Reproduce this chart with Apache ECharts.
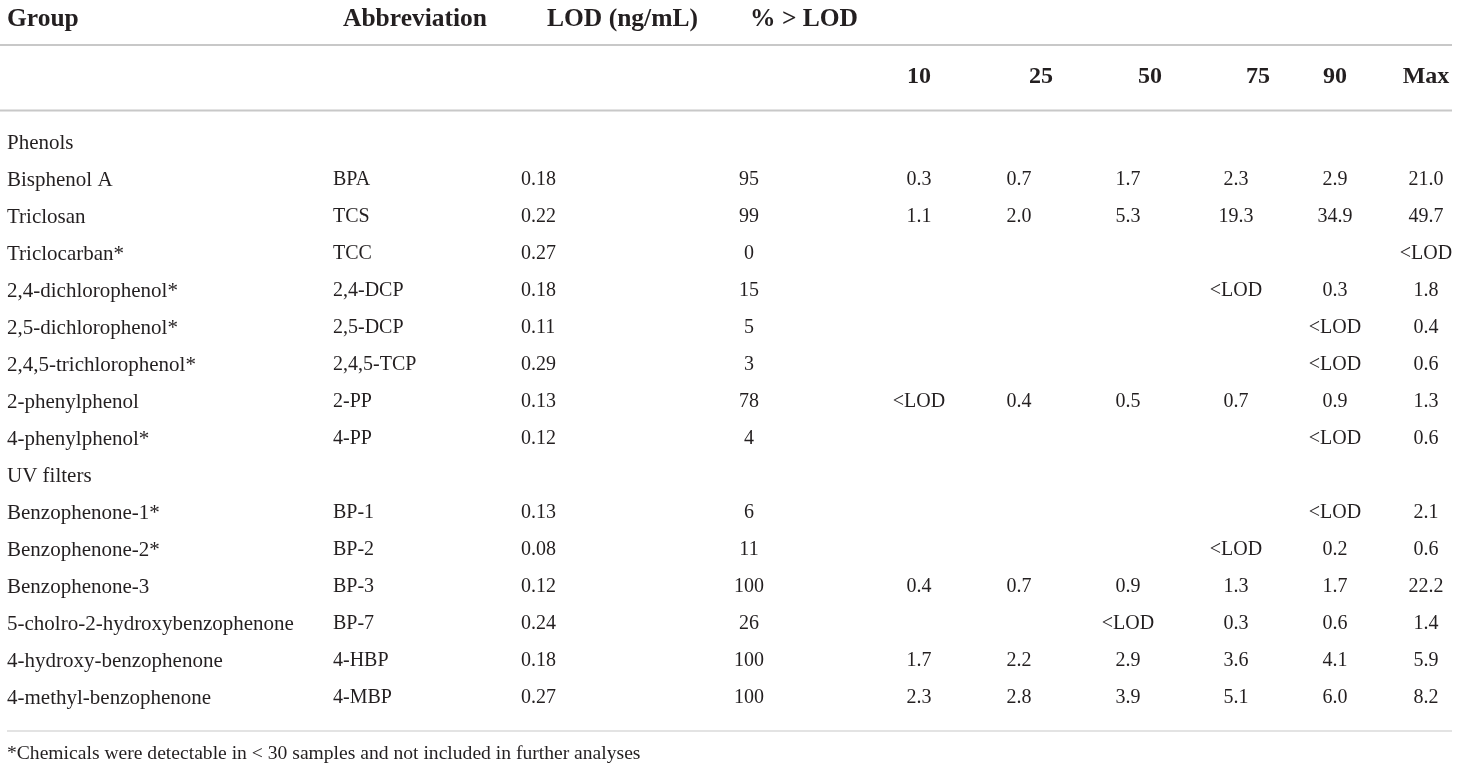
<!DOCTYPE html>
<html>
<head>
<meta charset="utf-8">
<title>Phenols and UV filters</title>
<script src="https://cdn.jsdelivr.net/npm/echarts@6/dist/echarts.min.js"></script>
<style>
  html, body { margin: 0; padding: 0; background: #fff; }
  #chart { width: 1460px; height: 772px; }
</style>
</head>
<body>
<div id="chart"></div>
<script>
// table content
const mainHeaders = ['Group', 'Abbreviation', 'LOD (ng/mL)', '% > LOD'];
const percentileHeaders = ['10', '25', '50', '75', '90', 'Max'];

const names = ['Phenols', 'Bisphenol A', 'Triclosan', 'Triclocarban*', '2,4-dichlorophenol*',
  '2,5-dichlorophenol*', '2,4,5-trichlorophenol*', '2-phenylphenol', '4-phenylphenol*',
  'UV filters', 'Benzophenone-1*', 'Benzophenone-2*', 'Benzophenone-3',
  '5-cholro-2-hydroxybenzophenone', '4-hydroxy-benzophenone', '4-methyl-benzophenone'];
const abbrevs = ['', 'BPA', 'TCS', 'TCC', '2,4-DCP', '2,5-DCP', '2,4,5-TCP', '2-PP', '4-PP',
  '', 'BP-1', 'BP-2', 'BP-3', 'BP-7', '4-HBP', '4-MBP'];
const lods = ['', '0.18', '0.22', '0.27', '0.18', '0.11', '0.29', '0.13', '0.12',
  '', '0.13', '0.08', '0.12', '0.24', '0.18', '0.27'];
const pctAboveLod = ['', '95', '99', '0', '15', '5', '3', '78', '4',
  '', '6', '11', '100', '26', '100', '100'];
const p10 = ['', '0.3', '1.1', '', '', '', '', '<LOD', '', '', '', '', '0.4', '', '1.7', '2.3'];
const p25 = ['', '0.7', '2.0', '', '', '', '', '0.4', '', '', '', '', '0.7', '', '2.2', '2.8'];
const p50 = ['', '1.7', '5.3', '', '', '', '', '0.5', '', '', '', '', '0.9', '<LOD', '2.9', '3.9'];
const p75 = ['', '2.3', '19.3', '', '<LOD', '', '', '0.7', '', '', '', '<LOD', '1.3', '0.3', '3.6', '5.1'];
const p90 = ['', '2.9', '34.9', '', '0.3', '<LOD', '<LOD', '0.9', '<LOD', '', '<LOD', '0.2', '1.7', '0.6', '4.1', '6.0'];
const pMax = ['', '21.0', '49.7', '<LOD', '1.8', '0.4', '0.6', '1.3', '0.6', '', '2.1', '0.6', '22.2', '1.4', '5.9', '8.2'];
const footnote = '*Chemicals were detectable in < 30 samples and not included in further analyses';

// layout
const FONT = "'Liberation Serif', 'DejaVu Serif', serif";
const nameFont = '21px ' + FONT;
const bodyFont = '20px ' + FONT;
const headFont = 'bold 25.5px ' + FONT;
const subHeadFont = 'bold 24px ' + FONT;
const textColor = '#231f20';
const ruleColor = '#c8c8c8';
const rowHeight = 37;
const firstRowY = 143;

const columns = [
  { values: names, x: 7, align: 'left', font: nameFont },
  { values: abbrevs, x: 333, align: 'left', font: bodyFont },
  { values: lods, x: 521, align: 'left', font: bodyFont },
  { values: pctAboveLod, x: 749, align: 'center', font: bodyFont },
  { values: p10, x: 919, align: 'center', font: bodyFont },
  { values: p25, x: 1019, align: 'center', font: bodyFont },
  { values: p50, x: 1128, align: 'center', font: bodyFont },
  { values: p75, x: 1236, align: 'center', font: bodyFont },
  { values: p90, x: 1335, align: 'center', font: bodyFont },
  { values: pMax, x: 1426, align: 'center', font: bodyFont }
];
const mainHeaderX = [7, 343, 547, 750];
const percentileHeaderX = [919, 1041, 1150, 1258, 1335, 1426];

const chart = echarts.init(document.getElementById('chart'));

function cellSeries(col) {
  return {
    type: 'custom',
    silent: true,
    data: col.values.map((v, i) => [col.x, i]),
    renderItem: function (params, api) {
      const text = col.values[params.dataIndex];
      if (!text) return null;
      const pt = api.coord([api.value(0), api.value(1)]);
      return {
        type: 'text',
        x: pt[0],
        y: pt[1],
        style: {
          text: text,
          font: col.font,
          fill: textColor,
          textAlign: col.align,
          textVerticalAlign: 'middle'
        }
      };
    }
  };
}

function headerText(text, x, y, align, font) {
  return {
    type: 'text',
    x: x,
    y: y,
    silent: true,
    style: { text: text, font: font, fill: textColor, textAlign: align, textVerticalAlign: 'middle' }
  };
}

function rule(x1, x2, y, w) {
  return {
    type: 'line',
    silent: true,
    shape: { x1: x1, y1: y, x2: x2, y2: y },
    style: { stroke: ruleColor, lineWidth: w }
  };
}

const graphics = [
  rule(0, 1452, 45, 2),
  rule(0, 1452, 110.5, 2),
  rule(7, 1452, 731, 1.2)
];
mainHeaders.forEach((h, i) => graphics.push(headerText(h, mainHeaderX[i], 19, 'left', headFont)));
percentileHeaders.forEach((h, i) => graphics.push(headerText(h, percentileHeaderX[i], 77, 'center', subHeadFont)));
graphics.push({
  type: 'text', x: 7, y: 754, silent: true,
  style: { text: footnote, font: '19.6px ' + FONT, fill: textColor, textAlign: 'left', textVerticalAlign: 'middle' }
});

chart.setOption({
  animation: false,
  backgroundColor: '#fff',
  grid: {
    left: 0,
    right: 0,
    top: firstRowY - rowHeight / 2,
    height: rowHeight * names.length
  },
  xAxis: { type: 'value', min: 0, max: 1460, show: false },
  yAxis: { type: 'category', data: names, inverse: true, show: false },
  graphic: graphics,
  series: columns.map(cellSeries)
});
</script>
</body>
</html>
